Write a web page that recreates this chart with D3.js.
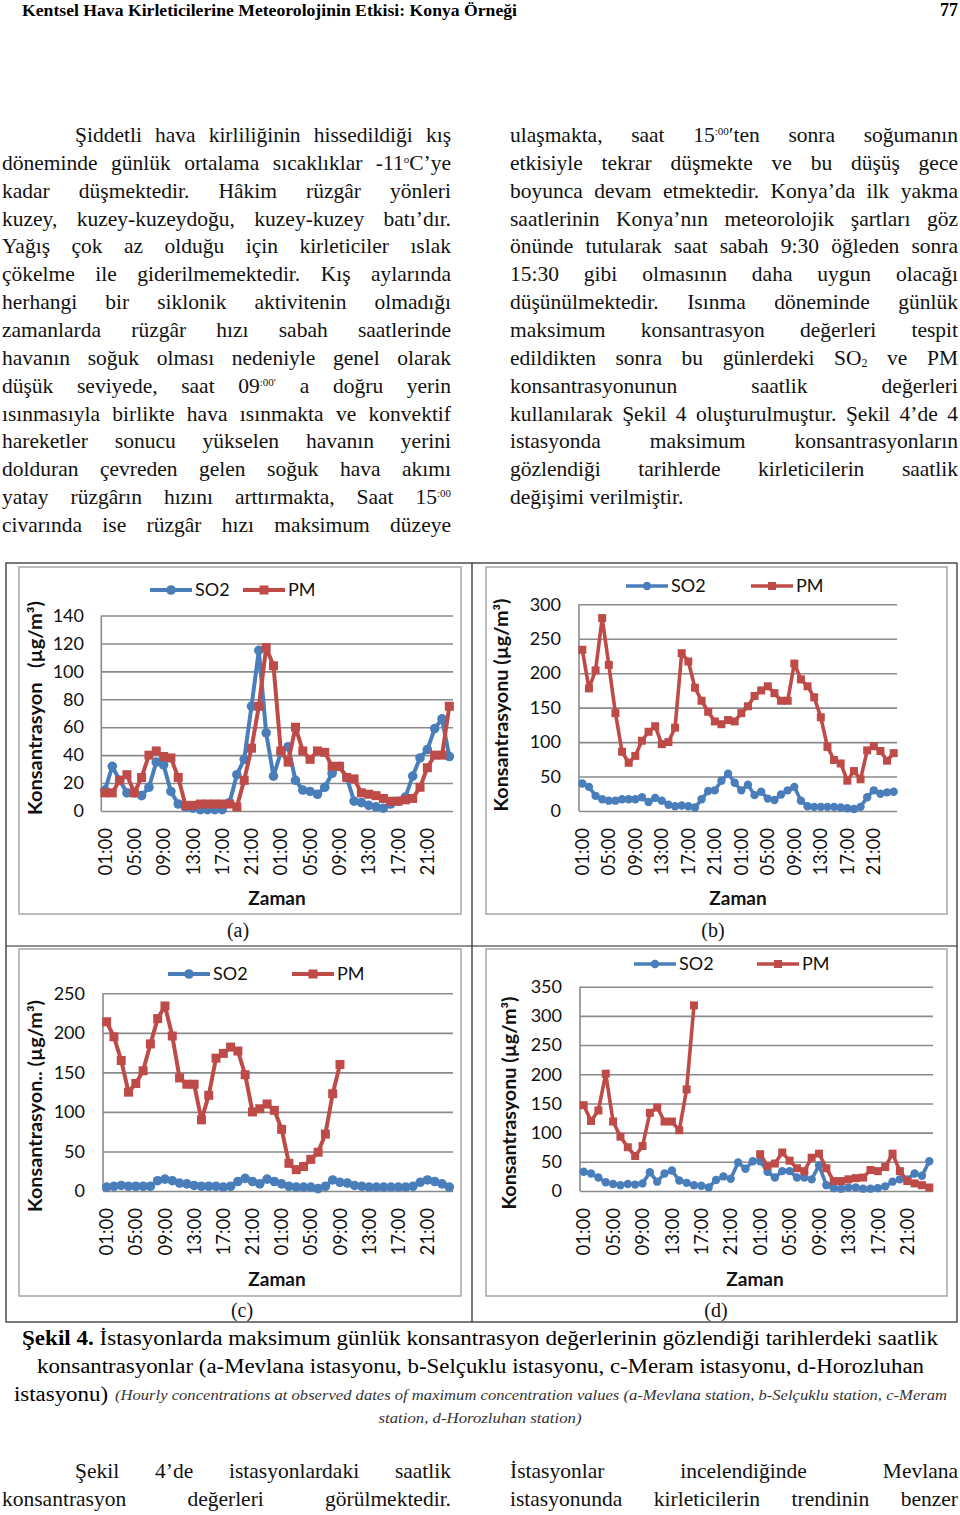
<!DOCTYPE html>
<html><head><meta charset="utf-8">
<script src="https://cdn.jsdelivr.net/npm/d3@7"></script>
<style>body{margin:0;background:#fff} svg{display:block}</style>
</head><body>
<svg id="page" width="960" height="1515"></svg>
<script>
// ---------- DATA ----------
const categories = ["01:00","02:00","03:00","04:00","05:00","06:00","07:00","08:00","09:00","10:00","11:00","12:00",
  "13:00","14:00","15:00","16:00","17:00","18:00","19:00","20:00","21:00","22:00","23:00","24:00",
  "01:00","02:00","03:00","04:00","05:00","06:00","07:00","08:00","09:00","10:00","11:00","12:00",
  "13:00","14:00","15:00","16:00","17:00","18:00","19:00","20:00","21:00","22:00","23:00","24:00"];
const xTickIndex = [0,4,8,12,16,20,24,28,32,36,40,44];
const seriesNames = ["SO2","PM"];

const so2A = [15,32,22,13,13,11,17,35,33,14,5,3,2,1,1,1,1,6,26,37,75,115,56,25,42,46,22,15,14,12,17,27,32,24,7,6,4,3,2,5,7,10,25,38,44,59,66,39];
const pmA  = [13,13,22,26,13,24,40,43,39,38,24,4,4,5,5,5,5,5,3,22,45,75,117,104,43,35,60,43,37,43,42,32,32,24,23,13,12,11,9,7,7,8,9,17,31,40,40,75];

const so2B = [40,35,22,17,15,15,17,17,17,20,13,19,15,9,7,8,7,5,17,29,30,44,54,41,30,38,23,28,18,16,24,30,35,15,7,6,6,6,6,5,4,3,6,20,30,25,27,28];
const pmB  = [234,178,204,280,212,142,86,70,80,102,115,123,97,100,121,229,217,179,160,144,130,126,132,130,142,152,167,175,181,171,160,160,214,191,181,165,136,93,74,69,44,58,46,88,94,87,73,84];

const so2C = [5,6,7,6,6,6,6,13,15,13,10,9,7,6,6,6,5,6,12,16,12,9,15,12,9,6,5,5,5,3,6,14,11,10,7,6,5,5,5,5,5,5,6,11,14,12,9,5];
const pmC  = [214,195,165,125,136,152,186,218,234,196,143,135,135,90,121,168,174,182,177,147,100,104,110,102,78,35,27,31,40,49,72,123,160,
  null,null,null,null,null,null,null,null,null,null,null,null,null,null,null];

const so2D = [33,30,23,15,12,10,12,11,13,32,16,30,35,18,14,10,9,6,19,25,21,49,38,51,51,33,23,34,34,23,23,20,44,10,5,4,6,6,4,4,5,8,16,20,20,30,26,51];
const pmD  = [147,120,138,201,119,93,75,60,77,134,143,119,119,104,174,318,null,null,null,null,null,null,null,null,
  63,43,47,66,52,39,34,57,64,39,17,17,20,22,23,36,34,41,64,34,17,13,10,6];

const yTicksA = [0,20,40,60,80,100,120,140];
const yTicksB = [0,50,100,150,200,250,300];
const yTicksC = [0,50,100,150,200,250];
const yTicksD = [0,50,100,150,200,250,300,350];

// ---------- TEXT ----------
const headerTitle = "Kentsel Hava Kirleticilerine Meteorolojinin Etkisi: Konya Örneği";
const pageNumber = "77";
const leftLines = [
  "Şiddetli hava kirliliğinin hissedildiği kış",
  "döneminde günlük ortalama sıcaklıklar -11^{o}C’ye",
  "kadar düşmektedir. Hâkim rüzgâr yönleri",
  "kuzey, kuzey-kuzeydoğu, kuzey-kuzey batı’dır.",
  "Yağış çok az olduğu için kirleticiler ıslak",
  "çökelme ile giderilmemektedir. Kış aylarında",
  "herhangi bir siklonik aktivitenin olmadığı",
  "zamanlarda rüzgâr hızı sabah saatlerinde",
  "havanın soğuk olması nedeniyle genel olarak",
  "düşük seviyede, saat 09^{:00′} a doğru yerin",
  "ısınmasıyla birlikte hava ısınmakta ve konvektif",
  "hareketler sonucu yükselen havanın yerini",
  "dolduran çevreden gelen soğuk hava akımı",
  "yatay rüzgârın hızını arttırmakta, Saat 15^{:00}",
  "civarında ise rüzgâr hızı maksimum düzeye"
];
const rightLines = [
  "ulaşmakta, saat 15^{:00}′ten sonra soğumanın",
  "etkisiyle tekrar düşmekte ve bu düşüş gece",
  "boyunca devam etmektedir. Konya’da ilk yakma",
  "saatlerinin Konya’nın meteorolojik şartları göz",
  "önünde tutularak saat sabah 9:30 öğleden sonra",
  "15:30 gibi olmasının daha uygun olacağı",
  "düşünülmektedir. Isınma döneminde günlük",
  "maksimum konsantrasyon değerleri tespit",
  "edildikten sonra bu günlerdeki SO_{2} ve PM",
  "konsantrasyonunun saatlik değerleri",
  "kullanılarak Şekil 4 oluşturulmuştur. Şekil 4’de 4",
  "istasyonda maksimum konsantrasyonların",
  "gözlendiği tarihlerde kirleticilerin saatlik",
  "değişimi verilmiştir."
];
const bottomLeft = ["Şekil 4’de istasyonlardaki saatlik","konsantrasyon değerleri görülmektedir."];
const bottomRight = ["İstasyonlar incelendiğinde Mevlana","istasyonunda kirleticilerin trendinin benzer"];
const captionBold = "Şekil 4.";
const captionL1 = " İstasyonlarda maksimum günlük konsantrasyon değerlerinin gözlendiği tarihlerdeki saatlik";
const captionL2 = "konsantrasyonlar (a-Mevlana istasyonu, b-Selçuklu istasyonu, c-Meram istasyonu, d-Horozluhan";
const captionL3a = "istasyonu)";
const captionL3b = "(Hourly concentrations at observed dates of maximum concentration values (a-Mevlana station, b-Selçuklu station, c-Meram";
const captionL4 = "station, d-Horozluhan station)";

// ---------- DRAW ----------
const svg = d3.select("#page");
const SERIF = "'Liberation Serif', 'Times New Roman', serif";
const SANS = "Lato, 'Open Sans', sans-serif";
const BLUE = "#4a7ebb", RED = "#be4b48";

function addSegments(t, w) {
  const parts = w.split(/(\^\{[^}]*\}|_\{[^}]*\})/).filter(s => s.length);
  parts.forEach(p => {
    if (p.startsWith("^{")) {
      t.append("tspan").attr("font-size", "11px").attr("baseline-shift", "7px").text(p.slice(2, -1));
    } else if (p.startsWith("_{")) {
      t.append("tspan").attr("font-size", "12px").attr("baseline-shift", "-2px").text(p.slice(2, -1));
    } else {
      t.append("tspan").text(p);
    }
  });
}

function drawLine(str, x0, x1, y, justify) {
  const g = svg.append("g").attr("font-family", SERIF).attr("font-size", "21.5px").attr("fill", "#111");
  const words = str.split(" ");
  const nodes = words.map(w => { const t = g.append("text").attr("y", y); addSegments(t, w); return t; });
  const widths = nodes.map(n => n.node().getComputedTextLength());
  const total = d3.sum(widths);
  let gap = justify && words.length > 1 ? (x1 - x0 - total) / (words.length - 1) : 5.5;
  let scale = 1;
  if (gap < 4) { gap = 4; scale = (x1 - x0 - gap * (words.length - 1)) / total; }
  let cx = x0;
  nodes.forEach((n, i) => {
    n.attr("x", cx);
    if (scale < 1) n.attr("textLength", widths[i] * scale).attr("lengthAdjust", "spacingAndGlyphs");
    cx += widths[i] * scale + gap;
  });
}

// header
svg.append("text").attr("x", 22).attr("y", 16).attr("font-family", SERIF).attr("font-weight", "bold")
  .attr("font-size", "17px").attr("textLength", 495).attr("lengthAdjust", "spacingAndGlyphs").text(headerTitle);
svg.append("text").attr("x", 958).attr("y", 16).attr("text-anchor", "end").attr("font-family", SERIF)
  .attr("font-weight", "bold").attr("font-size", "18px").text(pageNumber);

// body columns
const LH = 27.86, B0 = 142;
leftLines.forEach((l, i) => drawLine(l, i === 0 ? 75 : 2, 451, B0 + i * LH, true));
rightLines.forEach((l, i) => drawLine(l, 510, 958, B0 + i * LH, i < rightLines.length - 1));
bottomLeft.forEach((l, i) => drawLine(l, i === 0 ? 75 : 2, 451, 1478 + i * 28, true));
bottomRight.forEach((l, i) => drawLine(l, 510, 958, 1478 + i * 28, true));

// caption
const c1 = svg.append("text").attr("x", 22).attr("y", 1345).attr("font-family", SERIF).attr("font-size", "20px")
  .attr("textLength", 916).attr("lengthAdjust", "spacingAndGlyphs");
c1.append("tspan").attr("font-weight", "bold").text(captionBold);
c1.append("tspan").text(captionL1);
svg.append("text").attr("x", 37).attr("y", 1373).attr("font-family", SERIF).attr("font-size", "20px")
  .attr("textLength", 887).attr("lengthAdjust", "spacingAndGlyphs").text(captionL2);
svg.append("text").attr("x", 14).attr("y", 1401).attr("font-family", SERIF).attr("font-size", "20px")
  .attr("textLength", 94).attr("lengthAdjust", "spacingAndGlyphs").text(captionL3a);
svg.append("text").attr("x", 115).attr("y", 1400).attr("font-family", SERIF).attr("font-style", "italic").attr("font-size", "15px")
  .attr("fill", "#333").attr("textLength", 832).attr("lengthAdjust", "spacingAndGlyphs").text(captionL3b);
svg.append("text").attr("x", 480).attr("y", 1423).attr("text-anchor", "middle").attr("font-family", SERIF).attr("font-style", "italic").attr("font-size", "15px")
  .attr("fill", "#333").attr("textLength", 203).attr("lengthAdjust", "spacingAndGlyphs").text(captionL4);

// table grid
const tg = svg.append("g").attr("stroke", "#222").attr("stroke-width", 1.2).attr("fill", "none");
tg.append("rect").attr("x", 6).attr("y", 563).attr("width", 951).attr("height", 759);
tg.append("line").attr("x1", 472).attr("x2", 472).attr("y1", 563).attr("y2", 1322);
tg.append("line").attr("x1", 6).attr("x2", 957).attr("y1", 946).attr("y2", 946);

const panels = [
  { so2: so2A, pm: pmA, ticks: yTicksA, frame: [19, 567, 461, 914], x0: 101.3, x1: 453, yt: 615.5, yb: 811, tickRight: 84,
    yl: "Konsantrasyon   (µg/m³)", ylx: 36, yly: 708, ylw: 214, legSO: 150, legPM: 243, legY: 590, xlTop: 828, zx: 277, zy: 905, cap: "(a)", cx: 238, cy: 937, big: true },
  { so2: so2B, pm: pmB, ticks: yTicksB, frame: [486, 567, 947, 914], x0: 579, x1: 897, yt: 604.3, yb: 811, tickRight: 561,
    yl: "Konsantrasyonu (µg/m³)", ylx: 502, yly: 705, ylw: 213, legSO: 626, legPM: 751, legY: 586, xlTop: 828, zx: 738, zy: 905, cap: "(b)", cx: 713, cy: 937, big: false },
  { so2: so2C, pm: pmC, ticks: yTicksC, frame: [19, 949, 461, 1296], x0: 103, x1: 453, yt: 993.3, yb: 1191, tickRight: 85,
    yl: "Konsantrasyon.. (µg/m³)", ylx: 36, yly: 1106, ylw: 212, legSO: 168, legPM: 292, legY: 974, xlTop: 1208, zx: 277, zy: 1286, cap: "(c)", cx: 242, cy: 1317, big: true },
  { so2: so2D, pm: pmD, ticks: yTicksD, frame: [486, 949, 947, 1296], x0: 580, x1: 933, yt: 986.7, yb: 1191, tickRight: 562,
    yl: "Konsantrasyonu (µg/m³)", ylx: 510, yly: 1103, ylw: 213, legSO: 634, legPM: 757, legY: 964, xlTop: 1208, zx: 755, zy: 1286, cap: "(d)", cx: 716, cy: 1317, big: false }
];

function drawPanel(p) {
  const g = svg.append("g").attr("font-family", SANS);
  const [fx0, fy0, fx1, fy1] = p.frame;
  g.append("rect").attr("x", fx0).attr("y", fy0).attr("width", fx1 - fx0).attr("height", fy1 - fy0)
    .attr("fill", "#fff").attr("stroke", "#a6a6a6").attr("stroke-width", 1.5);

  const x = d3.scaleBand().domain(d3.range(categories.length)).range([p.x0, p.x1]);
  const ymax = d3.max(p.ticks);
  const y = d3.scaleLinear().domain([0, ymax]).range([p.yb, p.yt]);
  const cxp = i => x(i) + x.bandwidth() / 2;

  // y axis with gridlines
  const ya = g.append("g").attr("transform", `translate(${p.x0},0)`)
    .call(d3.axisLeft(y).tickValues(p.ticks).tickSize(-(p.x1 - p.x0)).tickPadding(p.x0 - p.tickRight));
  ya.select(".domain").remove();
  ya.selectAll(".tick line").attr("stroke", "#8a8a8a").attr("stroke-width", 1.6);
  ya.selectAll(".tick text").attr("font-size", "18px").attr("fill", "#111").attr("font-family", SANS);
  g.append("line").attr("x1", p.x0).attr("x2", p.x0).attr("y1", p.yb).attr("y2", p.yt)
    .attr("stroke", "#8a8a8a").attr("stroke-width", 1.6);

  // x axis labels
  const xa = g.append("g").attr("transform", `translate(0,${p.xlTop})`)
    .call(d3.axisBottom(x).tickValues(xTickIndex).tickFormat(i => categories[i]).tickSize(0));
  xa.select(".domain").remove();
  xa.selectAll(".tick text").attr("y", 0).attr("x", 0).attr("dy", "0.36em")
    .attr("transform", "rotate(-90)").attr("text-anchor", "end")
    .attr("font-size", "18.5px").attr("fill", "#111").attr("font-family", SANS);

  const lw = p.big ? 4 : 3.6, r = p.big ? 4.8 : 4.2, sq = p.big ? 9 : 8;
  const line = d3.line().defined(d => d != null).x((d, i) => cxp(i)).y(d => y(d));

  // SO2
  g.append("path").datum(p.so2).attr("d", line).attr("fill", "none").attr("stroke", BLUE)
    .attr("stroke-width", lw).attr("stroke-linejoin", "round");
  g.append("g").selectAll("circle").data(p.so2.map((v, i) => [v, i]).filter(d => d[0] != null)).join("circle")
    .attr("cx", d => cxp(d[1])).attr("cy", d => y(d[0])).attr("r", r).attr("fill", BLUE);
  // PM
  g.append("path").datum(p.pm).attr("d", line).attr("fill", "none").attr("stroke", RED)
    .attr("stroke-width", lw).attr("stroke-linejoin", "round");
  g.append("g").selectAll("rect").data(p.pm.map((v, i) => [v, i]).filter(d => d[0] != null)).join("rect")
    .attr("x", d => cxp(d[1]) - sq / 2).attr("y", d => y(d[0]) - sq / 2).attr("width", sq).attr("height", sq).attr("fill", RED);

  // legend
  const leg = [[p.legSO, BLUE, seriesNames[0], "c"], [p.legPM, RED, seriesNames[1], "s"]];
  leg.forEach(([lx, col, name, m]) => {
    g.append("line").attr("x1", lx).attr("x2", lx + 42).attr("y1", p.legY).attr("y2", p.legY)
      .attr("stroke", col).attr("stroke-width", lw);
    if (m === "c") g.append("circle").attr("cx", lx + 21).attr("cy", p.legY).attr("r", r).attr("fill", col);
    else g.append("rect").attr("x", lx + 21 - sq / 2).attr("y", p.legY - sq / 2).attr("width", sq).attr("height", sq).attr("fill", col);
    g.append("text").attr("x", lx + 45).attr("y", p.legY).attr("dy", "0.36em").attr("font-size", "18px")
      .attr("fill", "#111").text(name);
  });

  // y label
  g.append("text").attr("transform", `translate(${p.ylx},${p.yly}) rotate(-90)`).attr("text-anchor", "middle")
    .attr("dy", "0.36em").attr("font-size", "18px").attr("font-weight", "bold").attr("fill", "#111")
    .attr("textLength", p.ylw).attr("lengthAdjust", "spacingAndGlyphs")
    .attr("xml:space", "preserve").style("white-space", "pre").text(p.yl);
  // x title
  g.append("text").attr("x", p.zx).attr("y", p.zy).attr("text-anchor", "middle").attr("font-size", "19px")
    .attr("font-weight", "bold").attr("fill", "#111").text("Zaman");
  // panel caption
  svg.append("text").attr("x", p.cx).attr("y", p.cy).attr("text-anchor", "middle").attr("font-family", SERIF)
    .attr("font-size", "20px").attr("fill", "#111").text(p.cap);
}
panels.forEach(drawPanel);
</script>
</body></html>
